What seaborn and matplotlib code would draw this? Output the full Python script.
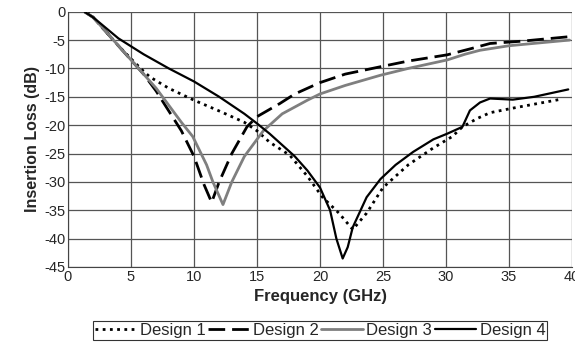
import numpy as np
import pandas as pd
import matplotlib
matplotlib.use("Agg")
import matplotlib.pyplot as plt
import seaborn as sns

# values (frequency in GHz, insertion loss in dB)
d1_f = [1.5, 2, 3, 4, 5, 6, 6.5, 8, 10, 12, 14, 15, 16, 17.6, 19, 20.2, 21.5, 22.6,
        23.7, 25, 27, 29, 30.5, 31.3, 32.5, 33.5, 35.3, 37, 39.2]
d1_l = [0, -1, -3.5, -6, -8.3, -10.5, -11.5, -13.5, -15.6, -17.5, -19.5, -21, -23, -25.3,
        -29, -32.7, -35.5, -38.4, -35.5, -31, -27, -24, -22, -20.3, -18.8, -17.8, -17, -16.3, -15.4]

d2_f = [1.3, 2, 3, 4, 5, 6, 7, 8, 9, 10, 10.8, 11.4, 12, 13, 14.2, 15, 16.8, 18, 20,
        22, 24.8, 27, 30.1, 32, 33.5, 36, 39.8]
d2_l = [0, -1, -3.5, -6, -8.5, -11, -14, -17.5, -21, -25.5, -30.5, -33.6, -30, -25,
        -20.3, -18.5, -16.2, -14.5, -12.5, -11, -9.7, -8.7, -7.6, -6.5, -5.6, -5.2, -4.4]

d3_f = [1.3, 2, 3, 4, 5, 6, 7, 8, 9, 9.9, 11, 11.5, 12.3, 13, 14, 15.5, 17, 19, 20,
        22, 24.8, 27, 30.1, 31.5, 32.7, 35, 39.8]
d3_l = [0, -1, -3.5, -6, -8.5, -11, -13.5, -16.5, -19.5, -22, -27, -30, -34, -30,
        -25.5, -21, -18, -15.6, -14.5, -13, -11.2, -10, -8.5, -7.5, -6.8, -6, -5]

d4_f = [1.3, 2, 4, 6, 8, 10, 12, 14, 15, 16, 17, 18, 19, 20, 20.8, 21.3, 21.8, 22.2,
        22.6, 23.7, 24.8, 26, 27.4, 29, 30.1, 31.3, 31.9, 32.7, 33.5, 35.3, 37, 39.7]
d4_l = [0, -1, -4.7, -7.5, -10, -12.3, -15, -18, -19.7, -21.5, -23.5, -25.5, -28, -31,
        -35, -40, -43.5, -41.5, -38, -32.7, -29.5, -27, -24.7, -22.5, -21.5, -20.3,
        -17.4, -16, -15.3, -15.5, -15, -13.7]

x_ticks = [0, 5, 10, 15, 20, 25, 30, 35, 40]
y_ticks = [0, -5, -10, -15, -20, -25, -30, -35, -40, -45]

sns.set_style("white")
plt.rcParams["font.family"] = ["Liberation Sans", "DejaVu Sans"]
plt.rcParams["axes.unicode_minus"] = False

fig = plt.figure(figsize=(5.75, 3.48), dpi=100)
ax = fig.add_axes([68 / 575, 1 - 267 / 348, 504 / 575, 255.3 / 348])

sns.lineplot(x=d1_f, y=d1_l, ax=ax, color="black", lw=2.0, linestyle=(0, (1, 1.6)),
             label="Design 1")
sns.lineplot(x=d2_f, y=d2_l, ax=ax, color="black", lw=2.0, linestyle=(0, (6, 2.5)),
             label="Design 2")
sns.lineplot(x=d3_f, y=d3_l, ax=ax, color="#7f7f7f", lw=2.0, label="Design 3")
sns.lineplot(x=d4_f, y=d4_l, ax=ax, color="black", lw=1.6, label="Design 4")

ax.set_xlim(0, 40)
ax.set_ylim(-45, 0)
ax.set_xticks(x_ticks)
ax.set_yticks(y_ticks)
ax.grid(True, color="#555555", lw=0.9)
for side in ["top", "right"]:
    ax.spines[side].set_visible(False)
for side in ["left", "bottom"]:
    ax.spines[side].set_color("#444444")
ax.tick_params(labelsize=10.5, length=0, pad=2)
ax.set_xlabel("Frequency (GHz)", fontsize=12, fontweight="bold", labelpad=4)
ax.set_ylabel("Insertion Loss (dB)", fontsize=11.5, fontweight="bold", labelpad=3)

ax.get_legend().remove()
handles, labels = ax.get_legend_handles_labels()
leg = fig.legend(handles, labels, ncol=4, loc="lower center",
                 bbox_to_anchor=(320 / 575, 0.0), fontsize=12, frameon=True,
                 fancybox=False, edgecolor="black", handlelength=2.5,
                 handletextpad=0.2, columnspacing=0.15, borderpad=0.1)
leg.get_frame().set_linewidth(0.8)

fig.savefig("out.png", dpi=100)
